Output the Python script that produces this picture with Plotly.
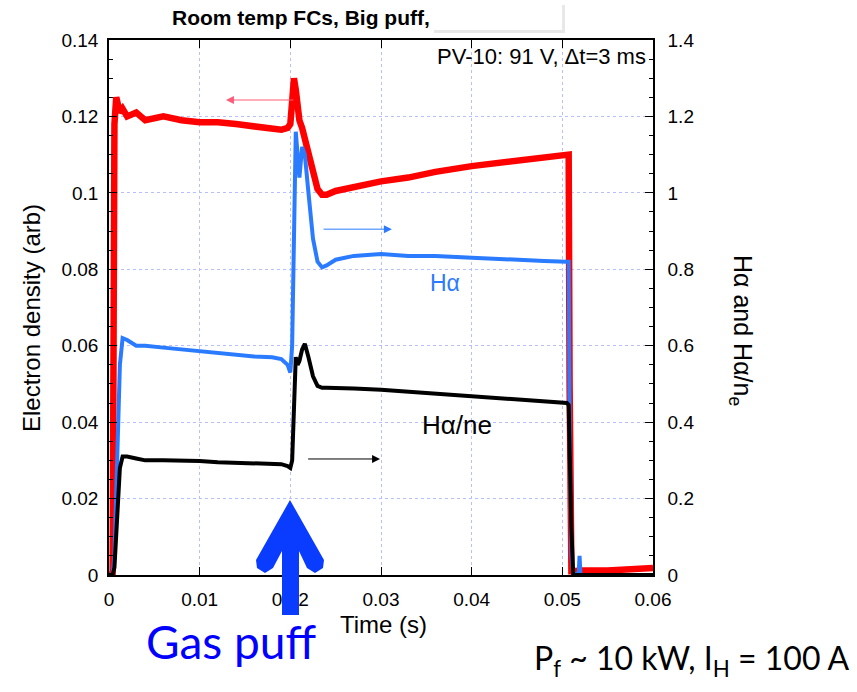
import plotly.graph_objects as go

# ---------------- data ----------------
time_s = [0, 0.0004, 0.0006, 0.0008, 0.0010, 0.0012, 0.0015, 0.0020, 0.0030, 0.0040,
          0.0060, 0.0080, 0.0100, 0.0120, 0.0140, 0.0160, 0.0180, 0.0190, 0.0197, 0.0200,
          0.0202, 0.0204, 0.0206, 0.0208, 0.0210, 0.0213, 0.0216, 0.0220, 0.0225, 0.0230,
          0.0235, 0.0240, 0.0250, 0.0270, 0.0300, 0.0330, 0.0360, 0.0400, 0.0440, 0.0480,
          0.0505, 0.0507, 0.0508, 0.0510, 0.0512, 0.0518, 0.0519, 0.0520, 0.0550, 0.0600]

electron_density = [0, 0.0005, 0.118, 0.125, 0.123, 0.121, 0.122, 0.120, 0.121, 0.119,
                    0.120, 0.119, 0.1185, 0.1185, 0.118, 0.1175, 0.117, 0.1165, 0.117, 0.118,
                    0.124, 0.130, 0.127, 0.122, 0.119, 0.117, 0.114, 0.110, 0.105, 0.101,
                    0.0995, 0.0995, 0.1005, 0.1015, 0.103, 0.104, 0.1055, 0.107, 0.108, 0.109,
                    0.110, 0.110, 0.050, 0.001, 0.001, 0.0012, 0.0012, 0.0012, 0.0012, 0.0018]

h_alpha = [0, 0.0, 0.05, 0.20, 0.40, 0.55, 0.62, 0.615, 0.60, 0.60,
           0.595, 0.59, 0.585, 0.58, 0.575, 0.572, 0.57, 0.565, 0.55, 0.53,
           0.60, 0.95, 1.16, 1.10, 1.04, 1.12, 1.10, 1.00, 0.88, 0.82,
           0.805, 0.81, 0.825, 0.835, 0.84, 0.835, 0.835, 0.83, 0.825, 0.822,
           0.82, 0.82, 0.40, 0.05, 0.005, 0.0, 0.05, 0.0, 0.0, 0.0]

h_alpha_over_ne = [0, 0.0, 0.02, 0.12, 0.22, 0.28, 0.31, 0.31, 0.305, 0.30,
                   0.30, 0.30, 0.298, 0.295, 0.293, 0.292, 0.29, 0.29, 0.285, 0.28,
                   0.30, 0.45, 0.57, 0.55, 0.56, 0.59, 0.605, 0.57, 0.52, 0.495,
                   0.49, 0.49, 0.49, 0.488, 0.485, 0.48, 0.475, 0.47, 0.462, 0.455,
                   0.45, 0.445, 0.32, 0.12, 0.0, 0.0, 0.0, 0.0, 0.0, 0.0]

x_ticks = [0, 0.01, 0.02, 0.03, 0.04, 0.05, 0.06]

RED = "#ff0000"
BLUE = "#2a7bff"
BLACK = "#000000"
FONT = "Liberation Sans"

fig = go.Figure()
fig.add_trace(go.Scatter(x=time_s, y=electron_density, mode="lines",
                         line=dict(color=RED, width=6.5), yaxis="y", name="ne"))
fig.add_trace(go.Scatter(x=time_s, y=h_alpha, mode="lines",
                         line=dict(color=BLUE, width=4), yaxis="y2", name="Hα"))
fig.add_trace(go.Scatter(x=time_s, y=h_alpha_over_ne, mode="lines",
                         line=dict(color=BLACK, width=4), yaxis="y2", name="Hα/ne"))

L, R, T, B = 109, 204, 40, 117
W, H = 857, 692
PW, PH = W - L - R, H - T - B


def px(xp):
    return (xp - L) / PW


def py(yp):
    return (H - B - yp) / PH


grid = "#b8bfff"
TICKFONT = dict(size=19)
fig.update_layout(
    width=W, height=H,
    margin=dict(l=L, r=R, t=T, b=B),
    paper_bgcolor="white", plot_bgcolor="white",
    showlegend=False,
    font=dict(family=FONT, size=16, color="black"),
    xaxis=dict(range=[0, 0.06], tickvals=x_ticks, ticks="inside", ticklen=8,
               tickwidth=1.3, tickcolor="black", showline=True, linecolor="black",
               linewidth=1.5, mirror="ticks", showgrid=True, gridcolor=grid,
               griddash="dot", gridwidth=1, zeroline=False,
               tickfont=TICKFONT, ticklabelstandoff=6),
    yaxis=dict(range=[0, 0.14], dtick=0.02, ticks="inside", ticklen=8, tickwidth=1.3,
               tickcolor="black", showline=True, linecolor="black", linewidth=1.5,
               showgrid=True, gridcolor=grid, griddash="dot", gridwidth=1,
               zeroline=False, tickfont=TICKFONT, ticklabelstandoff=5,
               minor=dict(dtick=0.005, ticks="inside", ticklen=4, tickcolor="black",
                          showgrid=False)),
    yaxis2=dict(range=[0, 1.4], dtick=0.2, overlaying="y", side="right",
                ticks="inside", ticklen=8, tickwidth=1.3, tickcolor="black",
                showline=True, linecolor="black", linewidth=1.5, showgrid=False,
                zeroline=False, tickfont=TICKFONT, ticklabelstandoff=9,
                minor=dict(dtick=0.05, ticks="inside", ticklen=4, tickcolor="black")),
)


def text_ann(text, x, y, size, color="black", family=None, angle=0, xanchor="center",
             yanchor="middle"):
    f = dict(size=size, color=color)
    if family:
        f["family"] = family
    return dict(text=text, x=px(x), y=py(y), xref="paper", yref="paper",
                showarrow=False, textangle=angle, font=f, xanchor=xanchor,
                yanchor=yanchor)


ann = [
    text_ann("<b>Room temp FCs, Big puff,</b>", 432, 18, 21, xanchor="right"),
    text_ann("PV-10: 91 V, Δt=3 ms", 648, 56, 22, xanchor="right"),
    text_ann("Electron density (arb)", 31, 318, 24, angle=-90),
    text_ann("Hα and Hα/n<sub>e</sub>", 741, 330, 25, angle=90),
    text_ann("Time (s)", 383, 624, 24),
    text_ann("Hα", 445, 283, 23, color=BLUE),
    text_ann("Hα/ne", 457, 425, 26),
    text_ann("Gas puff", 318, 641, 46, color="#0000ff", family="Lato", xanchor="right"),
    text_ann("P<sub>f</sub> ~ 10 kW, I<sub>H</sub> = 100 A", 852, 660, 32,
             family="Lato", xanchor="right"),
]

# direction arrows (data coordinates)
ann.append(dict(x=0.0129, y=0.1243, ax=0.0205, ay=0.1243, xref="x", yref="y",
                axref="x", ayref="y", showarrow=True, arrowhead=2, arrowsize=1.6,
                arrowwidth=1, arrowcolor="#ff5a78", text=""))
ann.append(dict(x=0.0312, y=0.905, ax=0.0235, ay=0.905, xref="x", yref="y2",
                axref="x", ayref="y2", showarrow=True, arrowhead=2, arrowsize=1.6,
                arrowwidth=1, arrowcolor=BLUE, text=""))
ann.append(dict(x=0.0299, y=0.3036, ax=0.0218, ay=0.3036, xref="x", yref="y2",
                axref="x", ayref="y2", showarrow=True, arrowhead=2, arrowsize=1.6,
                arrowwidth=1, arrowcolor=BLACK, text=""))
fig.update_layout(annotations=ann)

# big "gas puff" arrow (decoration, in pixel -> paper coordinates)
pts = [(290, 500), (256, 560), (257, 568), (265, 573), (273, 568), (282, 551),
       (282, 615), (299, 615), (299, 551), (307, 568), (315, 573), (323, 568),
       (324, 560)]
path = "M " + " L ".join(f"{px(a):.5f},{py(b):.5f}" for a, b in pts) + " Z"
shapes = [
    dict(type="path", path=path, xref="paper", yref="paper", fillcolor="#0a3cff",
         line=dict(width=0), layer="above"),
    # shadowed white box covering part of title
    dict(type="rect", xref="paper", yref="paper", x0=px(434), x1=px(565), y0=py(33),
         y1=py(5), fillcolor="#e8e8e8", line=dict(width=0), layer="above"),
    dict(type="rect", xref="paper", yref="paper", x0=px(432), x1=px(562), y0=py(30),
         y1=py(3), fillcolor="white", line=dict(width=0), layer="above"),
]
fig.update_layout(shapes=shapes)

fig.write_html("out.html")
